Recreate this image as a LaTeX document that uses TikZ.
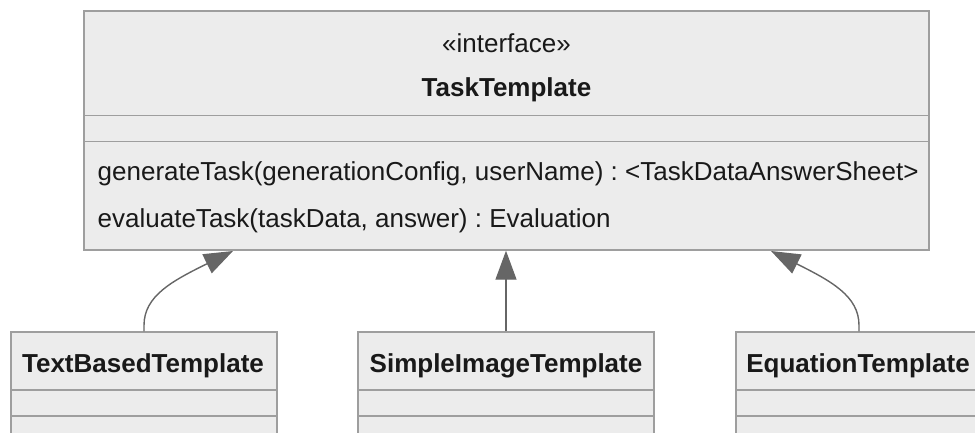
\documentclass[tikz,border=0pt]{standalone}
\usepackage{fontspec}
\setmainfont{Liberation Sans}
\usetikzlibrary{arrows.meta}
\definecolor{boxfill}{HTML}{ECECEC}
\definecolor{boxline}{HTML}{9E9E9E}
\definecolor{arrcol}{HTML}{666666}
\tikzset{
  umlbox/.style={draw=boxline, fill=boxfill, line width=1.4pt, rectangle, inner sep=0pt},
  sepline/.style={draw=boxline, line width=1.4pt},
  txt/.style={font=\fontsize{26}{30}\selectfont\frenchspacing, text=black!90, inner sep=0pt},
  btxt/.style={font=\fontsize{26}{30}\selectfont\bfseries, text=black!90, inner sep=0pt},
  inherit/.style={draw=arrcol, line width=1.4pt, -{Triangle[length=29pt,width=21pt,fill=arrcol]}},
}
\begin{document}
\begin{tikzpicture}[x=1pt,y=-1pt]
\useasboundingbox (0,0) rectangle (975,433);
\clip (0,0) rectangle (975,433);
% interface box
\node[umlbox, minimum width=845pt, minimum height=239pt] (tt) at (506.5,130.5) {};
\draw[sepline] (84,115.5) -- (929,115.5);
\draw[sepline] (84,141.5) -- (929,141.5);
\node[txt, anchor=base] (ster) at (506.5,53) {«interface»};
\node[btxt, anchor=base] (ttname) at (506.5,97) {TaskTemplate};
\node[txt, anchor=base west] (m1) at (97.5,180) {generateTask(generationConfig, userName) : <TaskDataAnswerSheet>};
\node[txt, anchor=base west] (m2) at (97.5,227) {evaluateTask(taskData, answer) : Evaluation};
% subclasses
\node[umlbox, minimum width=266pt, minimum height=140pt] (tbt) at (144,402) {};
\node[umlbox, minimum width=296pt, minimum height=140pt] (sit) at (506,402) {};
\node[umlbox, minimum width=248pt, minimum height=140pt] (eqt) at (860,402) {};
\foreach \b in {tbt,sit,eqt}{
  \draw[sepline] (\b.west |- 0,390) -- (\b.east |- 0,390);
  \draw[sepline] (\b.west |- 0,416) -- (\b.east |- 0,416);
}
\node[btxt, anchor=base] (tbtname) at (143,372) {TextBasedTemplate};
\node[btxt, anchor=base] (sitname) at (506,372) {SimpleImageTemplate};
\node[btxt, anchor=base] (eqtname) at (858,372) {EquationTemplate};
% inheritance arrows
\coordinate (t1) at (233,251);
\coordinate (t3) at (771,251);
\draw[inherit] (tbt.north) -- ++(0,-6) .. controls (144,296) and (172,281) .. (t1);
\draw[inherit] (sit.north) -- (sit.north |- tt.south);
\draw[inherit] (eqt.north -| 859,0) -- ++(0,-6) .. controls (859,296) and (831,281) .. (t3);
\end{tikzpicture}
\end{document}
